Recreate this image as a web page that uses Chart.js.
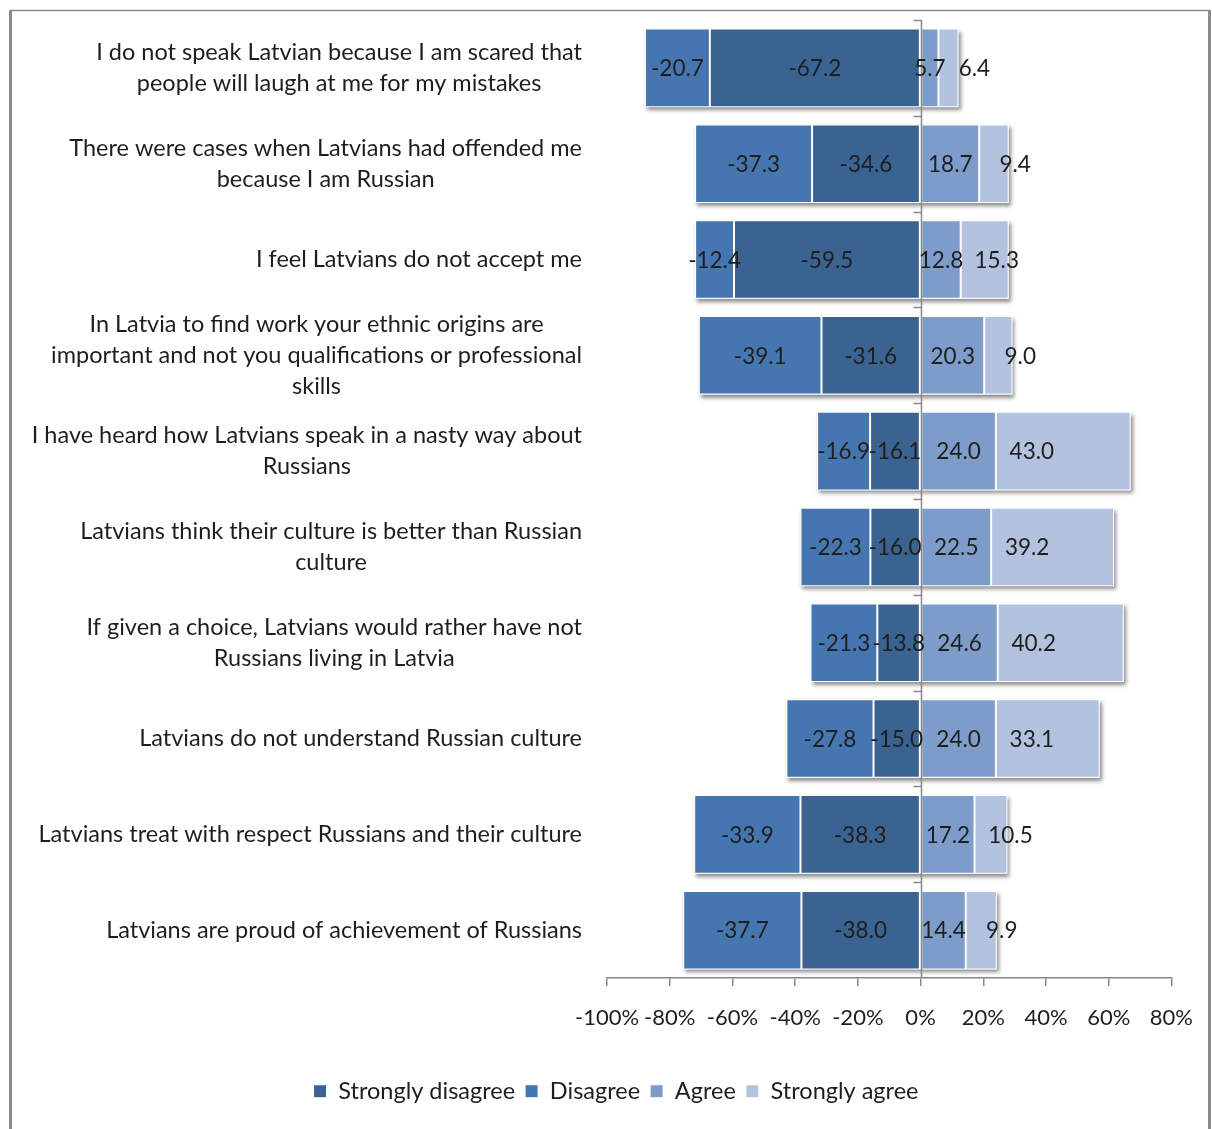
<!DOCTYPE html>
<html>
<head>
<meta charset="utf-8">
<title>Attitudes towards Latvians</title>
<script src="https://cdn.jsdelivr.net/npm/chart.js@4"></script>
<style>
  html, body { margin: 0; padding: 0; background: #fff; }
  #wrap { position: relative; width: 1212px; height: 1129px; }
</style>
</head>
<body>
<div id="wrap"><canvas id="attitudeChart"></canvas></div>
<script>
// Statement labels, already broken into lines
const categories = [
    ['I do not speak Latvian because I am scared that', 'people will laugh at me for my mistakes'],
    ['There were cases when Latvians had offended me', 'because I am Russian'],
    ['I feel Latvians do not accept me'],
    ['In Latvia to find work your ethnic origins are', 'important and not you qualifications or professional', 'skills'],
    ['I have heard how Latvians speak in a nasty way about', 'Russians'],
    ['Latvians think their culture is better than Russian', 'culture'],
    ['If given a choice, Latvians would rather have not', 'Russians living in Latvia'],
    ['Latvians do not understand Russian culture'],
    ['Latvians treat with respect Russians and their culture'],
    ['Latvians are proud of achievement of Russians']
];

// Shares in percent, disagreement kept negative
const stronglyDisagree = [-67.2, -34.6, -59.5, -31.6, -16.1, -16.0, -13.8, -15.0, -38.3, -38.0];
const disagree = [-20.7, -37.3, -12.4, -39.1, -16.9, -22.3, -21.3, -27.8, -33.9, -37.7];
const agree = [5.7, 18.7, 12.8, 20.3, 24.0, 22.5, 24.6, 24.0, 17.2, 14.4];
const stronglyAgree = [6.4, 9.4, 15.3, 9.0, 43.0, 39.2, 40.2, 33.1, 10.5, 9.9];

const xMin = -100;
const xMax = 80;
const xStep = 20;

const FONT = 'Lato';
const TEXT_COLOR = '#1e1e1e';
const AXIS_COLOR = '#878787';

/**
 * Gray frame round the whole figure
 */
const framePlugin = {
    id: 'frame',
    beforeDraw(chart) {
        const ctx = chart.ctx;
        ctx.save();
        ctx.strokeStyle = '#8a8a8a';
        ctx.lineWidth = 1.5;
        ctx.beginPath();
        ctx.moveTo(10, 10.5);
        ctx.lineTo(1210, 10.5);
        ctx.stroke();
        ctx.lineWidth = 3;
        ctx.beginPath();
        ctx.moveTo(10.5, 10);
        ctx.lineTo(10.5, chart.height);
        ctx.moveTo(1209.5, 10);
        ctx.lineTo(1209.5, chart.height);
        ctx.stroke();
        ctx.restore();
    }
};

/**
 * Soft drop shadow behind each whole stacked bar
 */
const barShadowPlugin = {
    id: 'barShadow',
    beforeDatasetsDraw(chart) {
        const ctx = chart.ctx;
        const metas = chart.getSortedVisibleDatasetMetas();
        ctx.save();
        ctx.shadowColor = 'rgba(0, 0, 0, 0.45)';
        ctx.shadowBlur = 4;
        ctx.shadowOffsetX = 2;
        ctx.shadowOffsetY = 3;
        ctx.fillStyle = '#ffffff';
        categories.forEach((c, i) => {
            let left = Infinity, right = -Infinity, top = 0, bottom = 0;
            metas.forEach(meta => {
                const el = meta.data[i];
                const p = el.getProps(['x', 'y', 'base', 'height'], true);
                left = Math.min(left, p.x, p.base);
                right = Math.max(right, p.x, p.base);
                top = p.y - p.height / 2;
                bottom = p.y + p.height / 2;
            });
            ctx.fillRect(left, top, right - left, bottom - top);
        });
        ctx.restore();
    }
};

/**
 * Zero line with category ticks, then the value labels on top.
 * Labels sit in the middle of their segment, except where a dataset
 * asks for a fixed distance from the segment start (labelInset).
 */
const zeroAxisAndLabelsPlugin = {
    id: 'zeroAxisAndLabels',
    afterDatasetsDraw(chart) {
        const ctx = chart.ctx;
        const xScale = chart.scales.x;
        const yScale = chart.scales.y;
        const x0 = Math.round(xScale.getPixelForValue(0)) + 0.5;
        const rowH = (yScale.bottom - yScale.top) / categories.length;

        ctx.save();
        ctx.strokeStyle = AXIS_COLOR;
        ctx.lineWidth = 1.5;
        ctx.beginPath();
        ctx.moveTo(x0, yScale.top);
        ctx.lineTo(x0, yScale.bottom);
        for (let i = 0; i < categories.length; i++) {
            const yb = Math.round(yScale.top + i * rowH) + 0.5;
            ctx.moveTo(x0 - 8, yb);
            ctx.lineTo(x0, yb);
        }
        ctx.stroke();

        ctx.fillStyle = TEXT_COLOR;
        ctx.font = `22.5px ${FONT}`;
        ctx.textAlign = 'center';
        ctx.textBaseline = 'middle';
        chart.getSortedVisibleDatasetMetas().forEach(meta => {
            const ds = chart.data.datasets[meta.index];
            meta.data.forEach((el, i) => {
                const p = el.getProps(['x', 'y', 'base'], true);
                const lx = ds.labelInset ? p.base + ds.labelInset : (p.x + p.base) / 2;
                ctx.fillText(ds.data[i].toFixed(1), lx, p.y + 1);
            });
        });
        ctx.restore();
    }
};

/**
 * Statement text to the left of the plot, lines centred in a right-aligned block
 */
const categoryLabelsPlugin = {
    id: 'categoryLabels',
    afterDraw(chart) {
        const ctx = chart.ctx;
        const yScale = chart.scales.y;
        const rightEdge = chart.chartArea.left - 25;
        const lineH = 31;

        ctx.save();
        ctx.fillStyle = TEXT_COLOR;
        ctx.font = `23.5px ${FONT}`;
        ctx.textAlign = 'center';
        ctx.textBaseline = 'middle';
        categories.forEach((lines, i) => {
            const maxW = Math.max(...lines.map(l => ctx.measureText(l).width));
            const cx = rightEdge - maxW / 2;
            const cy = yScale.getPixelForValue(i);
            const startY = cy - (lines.length - 1) * lineH / 2;
            lines.forEach((line, k) => {
                ctx.fillText(line, cx, startY + k * lineH);
            });
        });
        ctx.restore();
    }
};

function initAttitudeChart() {
    const ctx = document.getElementById('attitudeChart');
    if (!ctx) return;

    const barStyle = {
        borderColor: '#ffffff',
        borderWidth: 1,
        borderSkipped: false,
        categoryPercentage: 0.82,
        barPercentage: 1.0
    };

    // Axes that only reserve room beside the plot
    const spacer = width => ({
        display: true,
        ticks: { display: false },
        grid: { display: false },
        border: { display: false },
        afterFit: scale => { scale.width = width; }
    });

    new Chart(ctx, {
        type: 'bar',
        data: {
            labels: categories.map(lines => lines.join(' ')),
            datasets: [
                { label: 'Strongly disagree', data: stronglyDisagree, backgroundColor: '#3b6391', ...barStyle },
                { label: 'Disagree', data: disagree, backgroundColor: '#4676b0', ...barStyle },
                { label: 'Agree', data: agree, backgroundColor: '#7d9cc9', ...barStyle },
                { label: 'Strongly agree', data: stronglyAgree, backgroundColor: '#b3c2de', labelInset: 36, ...barStyle }
            ]
        },
        options: {
            indexAxis: 'y',
            responsive: true,
            maintainAspectRatio: false,
            animation: false,
            layout: {
                padding: { top: 20, left: 20, right: 0, bottom: 16 }
            },
            scales: {
                x: {
                    stacked: true,
                    min: xMin,
                    max: xMax,
                    ticks: {
                        stepSize: xStep,
                        callback: v => v + '%',
                        padding: 19,
                        maxRotation: 0,
                        minRotation: 0,
                        autoSkip: false,
                        color: TEXT_COLOR,
                        font: { size: 22, family: FONT }
                    },
                    grid: {
                        drawOnChartArea: false,
                        drawTicks: true,
                        tickLength: 8,
                        color: AXIS_COLOR,
                        lineWidth: 1.5
                    },
                    border: { display: true, color: AXIS_COLOR, width: 1.5 },
                    afterFit: scale => { scale.height += 19; }
                },
                y: {
                    stacked: true,
                    position: 'left',
                    ...spacer(587)
                },
                yRight: {
                    type: 'linear',
                    position: 'right',
                    ...spacer(40)
                }
            },
            plugins: {
                legend: {
                    position: 'bottom',
                    labels: {
                        boxWidth: 13,
                        boxHeight: 13,
                        padding: 10,
                        color: TEXT_COLOR,
                        font: { size: 23.5, family: FONT }
                    }
                },
                tooltip: { enabled: false }
            }
        },
        plugins: [framePlugin, barShadowPlugin, zeroAxisAndLabelsPlugin, categoryLabelsPlugin]
    });
}

document.addEventListener('DOMContentLoaded', initAttitudeChart);
</script>
</body>
</html>
